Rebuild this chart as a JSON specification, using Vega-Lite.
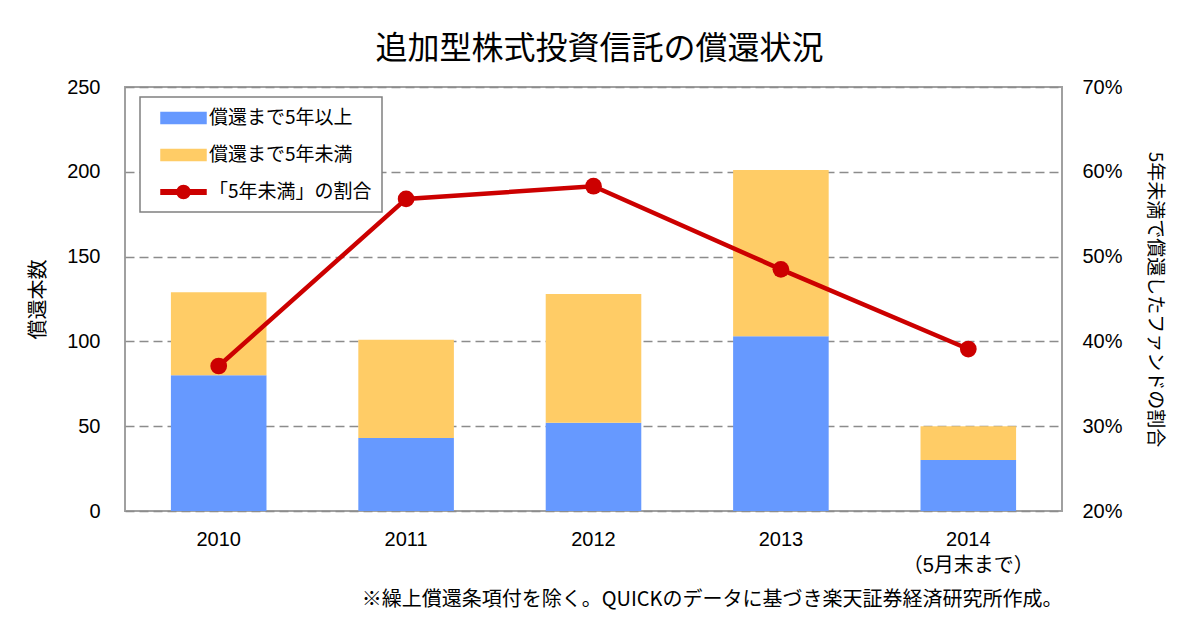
{
  "$schema": "https://vega.github.io/schema/vega-lite/v6.json",
  "autosize": {"type": "none"},
  "width": 937,
  "height": 424,
  "padding": {"left": 125, "top": 87, "right": 138, "bottom": 131},
  "background": "white",
  "title": {
    "text": "追加型株式投資信託の償還状況",
    "font": "Noto Sans CJK JP",
    "fontSize": 32,
    "fontWeight": "normal",
    "color": "black",
    "anchor": "middle",
    "offset": 11,
    "dx": 6
  },
  "datasets": {
    "bars": [
      {"year": "2010", "series": "償還まで5年以上", "value": 80},
      {"year": "2010", "series": "償還まで5年未満", "value": 49},
      {"year": "2011", "series": "償還まで5年以上", "value": 43},
      {"year": "2011", "series": "償還まで5年未満", "value": 58},
      {"year": "2012", "series": "償還まで5年以上", "value": 52},
      {"year": "2012", "series": "償還まで5年未満", "value": 76},
      {"year": "2013", "series": "償還まで5年以上", "value": 103},
      {"year": "2013", "series": "償還まで5年未満", "value": 98},
      {"year": "2014", "series": "償還まで5年以上", "value": 30},
      {"year": "2014", "series": "償還まで5年未満", "value": 20}
    ],
    "ratio": [
      {"year": "2010", "ratio": 0.371},
      {"year": "2011", "ratio": 0.568},
      {"year": "2012", "ratio": 0.583},
      {"year": "2013", "ratio": 0.485},
      {"year": "2014", "ratio": 0.391}
    ]
  },
  "config": {
    "view": {"stroke": "#a0a0a0", "strokeWidth": 2},
    "axis": {
      "labelFont": "Liberation Sans, Noto Sans CJK JP",
      "labelFontSize": 20,
      "labelColor": "black",
      "ticks": false,
      "domain": false,
      "titleFont": "Noto Sans CJK JP",
      "titleFontWeight": "normal",
      "titleColor": "black"
    }
  },
  "encoding": {
    "x": {
      "field": "year",
      "type": "nominal",
      "scale": {"paddingInner": 0.49, "paddingOuter": 0.245},
      "axis": {
        "labelAngle": 0,
        "labelPadding": 18,
        "labelLineHeight": 26,
        "labelExpr": "datum.value == '2014' ? ['2014', '（5月末まで）'] : datum.label",
        "title": "※繰上償還条項付を除く。QUICKのデータに基づき楽天証券経済研究所作成。",
        "titleFontSize": 20,
        "titleAnchor": "end",
        "titlePadding": 14,
        "grid": false
      }
    }
  },
  "layer": [
    {
      "data": {"name": "bars"},
      "mark": {"type": "bar"},
      "encoding": {
        "y": {
          "field": "value",
          "type": "quantitative",
          "stack": "zero",
          "scale": {"domain": [0, 250]},
          "axis": {
            "title": "償還本数",
            "titleFontSize": 20,
            "titlePadding": 18,
            "values": [0, 50, 100, 150, 200, 250],
            "labelPadding": 25,
            "grid": true,
            "gridDash": [9, 5],
            "gridColor": "#8c8c8c",
            "gridWidth": 1.5
          }
        },
        "order": {"field": "series", "sort": "ascending"},
        "color": {
          "field": "series",
          "type": "nominal",
          "scale": {
            "domain": ["償還まで5年以上", "償還まで5年未満", "「5年未満」の割合"],
            "range": ["#6699ff", "#ffcc66", "#cc0000"]
          },
          "legend": {
            "title": null,
            "orient": "none",
            "legendX": 15,
            "legendY": 10,
            "padding": 10,
            "fillColor": "white",
            "strokeColor": "#808080",
            "labelFont": "Noto Sans CJK JP",
            "labelFontSize": 19,
            "labelColor": "black",
            "labelLimit": 400,
            "symbolSize": 400,
            "labelOffset": 37,
            "rowPadding": 16,
            "encode": {
              "legend": {
                "update": {"strokeWidth": {"value": 1.5}}
              },
              "symbols": {
                "update": {
                  "shape": {"signal": "datum.value === '「5年未満」の割合' ? 'M0,-0.22H4.5V0.22H0Z M2.9,0A0.65,0.65 0 1,1 1.6,0A0.65,0.65 0 1,1 2.9,0Z' : 'M0,-0.55H4.5V0.55H0Z'"},
                  "fill": {"scale": "color", "field": "value"},
                  "stroke": {"value": "transparent"},
                  "opacity": {"value": 1},
                  "fillOpacity": {"value": 1}
                }
              }
            }
          }
        }
      }
    },
    {
      "data": {"name": "ratio"},
      "mark": {"type": "line", "strokeWidth": 4.5, "point": {"size": 280, "filled": true, "opacity": 1}},
      "encoding": {
        "y": {
          "field": "ratio",
          "type": "quantitative",
          "scale": {"domain": [0.2, 0.7]},
          "axis": {
            "orient": "right",
            "format": ".0%",
            "values": [0.2, 0.3, 0.4, 0.5, 0.6, 0.7],
            "labelPadding": 20,
            "title": "5年未満で償還したファンドの割合",
            "titleFontSize": 19,
            "titlePadding": 22,
            "grid": false
          }
        },
        "color": {"datum": "「5年未満」の割合"}
      }
    }
  ],
  "resolve": {"scale": {"y": "independent"}}
}
